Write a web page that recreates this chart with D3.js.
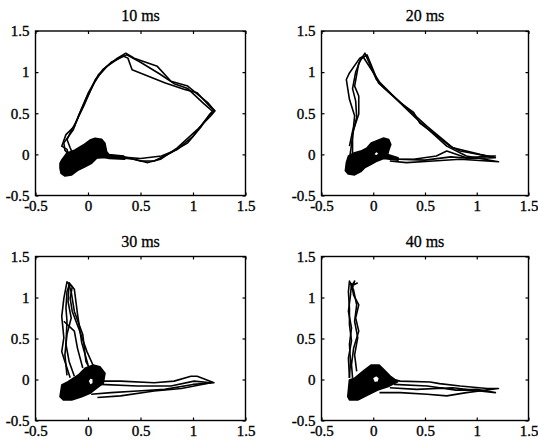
<!DOCTYPE html>
<html>
<head>
<meta charset="utf-8">
<script src="https://cdn.jsdelivr.net/npm/d3@7"></script>
<style>
  body { margin: 0; background: #fff; }
  svg text { font-family: 'Liberation Serif', 'Times New Roman', serif; fill: #000; }
</style>
</head>
<body>
<div id="chart"></div>
<script>
// Tick values and labels shared by every panel
const tickValues = [-0.5, 0, 0.5, 1, 1.5];
const tickLabels = ['-0.5', '0', '0.5', '1', '1.5'];
const titles = ['10 ms', '20 ms', '30 ms', '40 ms'];

// Trajectories (x, y)
const loops10 = [
  [[0.1,-0.02],[0.15,-0.03],[0.31,-0.02],[0.5,-0.08],[0.63,-0.08],[0.79,0.02],[0.95,0.14],[1.08,0.34],[1.16,0.49],[1.2,0.54],[1.14,0.63],[0.95,0.83],[0.79,0.89],[0.66,1.07],[0.44,1.17],[0.36,1.23],[0.28,1.17],[0.14,1.03],[0.06,0.87],[-0.02,0.67],[-0.09,0.47],[-0.13,0.34],[-0.21,0.24],[-0.25,0.1],[-0.2,0.06],[-0.17,-0.06]],
  [[0.1,-0.04],[0.3,-0.04],[0.44,-0.06],[0.57,-0.1],[0.69,-0.06],[0.85,0.08],[1.04,0.3],[1.17,0.47],[1.21,0.53],[1.17,0.57],[1.04,0.75],[0.92,0.79],[0.73,0.87],[0.42,1.03],[0.38,1.17],[0.33,1.2],[0.18,1.07],[0.07,0.91],[-0.04,0.59],[-0.1,0.43],[-0.17,0.26],[-0.2,0.18],[-0.17,0.08],[-0.13,-0.04]],
  [[0.12,-0.03],[0.3,-0.03],[0.5,-0.05],[0.7,-0.02],[0.85,0.06],[1.0,0.22],[1.12,0.42],[1.19,0.52],[1.1,0.62],[0.95,0.8],[0.82,0.86],[0.68,0.98],[0.5,1.12],[0.37,1.21],[0.22,1.12],[0.1,0.97],[0.0,0.74],[-0.08,0.5],[-0.14,0.3],[-0.23,0.14],[-0.22,0.05],[-0.15,-0.05]]
];
const blob10 = [[-0.267,-0.109],[-0.25,-0.068],[-0.203,0.013],[-0.124,0.053],[-0.045,0.114],[0.019,0.175],[0.067,0.195],[0.13,0.183],[0.162,0.134],[0.178,0.033],[0.2,0.0],[0.34,-0.02],[0.35,-0.06],[0.2,-0.05],[0.146,-0.028],[0.083,-0.048],[0.035,-0.109],[-0.029,-0.15],[-0.092,-0.19],[-0.155,-0.25],[-0.219,-0.263],[-0.257,-0.23],[-0.267,-0.17]];
const hole10 = [];

const loops20 = [
  [[-0.23,-0.06],[-0.19,0.3],[-0.14,0.49],[-0.14,0.71],[-0.18,0.83],[-0.14,1.11],[-0.1,1.19],[-0.08,1.23],[0.03,0.91],[0.1,0.81],[0.26,0.63],[0.39,0.51],[0.45,0.38],[0.58,0.26],[0.74,0.1],[0.84,0.04],[1.1,-0.02],[1.18,-0.02],[0.9,-0.04],[0.71,0.04],[0.61,-0.02],[0.39,-0.06],[0.19,-0.06],[0.13,-0.02]],
  [[-0.23,0.1],[-0.19,0.34],[-0.18,0.47],[-0.23,0.67],[-0.26,0.91],[-0.23,0.99],[-0.13,1.17],[-0.1,1.19],[0.06,0.88],[0.29,0.59],[0.42,0.43],[0.71,0.1],[0.9,-0.02],[1.21,-0.09],[0.84,-0.06],[0.58,-0.08],[0.32,-0.1],[0.16,-0.08]],
  [[-0.2,0.0],[-0.2,0.25],[-0.16,0.45],[-0.17,0.65],[-0.2,0.8],[-0.17,1.0],[-0.12,1.16],[-0.06,1.21],[0.05,0.87],[0.32,0.57],[0.52,0.34],[0.77,0.08],[1.03,0.0],[1.18,-0.04],[0.95,-0.05],[0.75,-0.03],[0.5,-0.07],[0.25,-0.06],[0.12,-0.04]]
];
const blob20 = [[-0.27,-0.2],[-0.26,-0.1],[-0.24,-0.02],[-0.18,0.02],[-0.12,0.04],[-0.06,0.08],[-0.02,0.14],[0.04,0.17],[0.1,0.2],[0.15,0.18],[0.17,0.12],[0.15,0.05],[0.14,0.0],[0.24,-0.04],[0.24,-0.07],[0.1,-0.05],[0.04,-0.08],[-0.02,-0.12],[-0.08,-0.16],[-0.12,-0.21],[-0.18,-0.25],[-0.24,-0.24]];
const hole20 = [[0.0,0.0],[0.03,0.04],[0.06,0.01],[0.03,-0.02]];

const loops30 = [
  [[-0.17,0.02],[-0.23,0.26],[-0.25,0.34],[-0.23,0.51],[-0.25,0.77],[-0.23,0.99],[-0.2,1.19],[-0.15,1.13],[-0.17,0.99],[-0.15,0.83],[-0.09,0.63],[-0.01,0.34],[0.06,0.14]],
  [[-0.13,0.04],[-0.18,0.22],[-0.21,0.43],[-0.2,0.71],[-0.21,0.87],[-0.2,1.07],[-0.18,1.15],[-0.16,1.07],[-0.13,0.83],[-0.05,0.55],[-0.02,0.22],[0.03,0.1]],
  [[-0.23,0.71],[-0.13,0.59],[-0.1,0.38],[-0.05,0.14]],
  [[-0.2,0.05],[-0.22,0.3],[-0.2,0.55],[-0.16,0.75],[-0.19,0.95],[-0.18,1.18],[-0.13,1.1],[-0.1,0.8],[-0.06,0.45],[0.0,0.18]],
  [[0.12,-0.02],[0.31,-0.02],[0.63,-0.04],[0.82,-0.02],[0.98,0.04],[1.04,0.04],[1.2,-0.04],[1.0,-0.06],[0.73,-0.12],[0.47,-0.14],[0.22,-0.16],[0.03,-0.18]],
  [[0.12,-0.06],[0.47,-0.08],[0.79,-0.08],[1.01,-0.02],[1.17,-0.04],[0.89,-0.11],[0.63,-0.14],[0.31,-0.2],[0.09,-0.22]]
];
const blob30 = [[-0.267,-0.21],[-0.25,-0.067],[-0.19,-0.027],[-0.092,0.055],[-0.029,0.137],[0.05,0.177],[0.114,0.156],[0.162,0.076],[0.146,-0.046],[0.083,-0.107],[0.019,-0.168],[-0.06,-0.21],[-0.155,-0.25],[-0.235,-0.25]];
const hole30 = [[0.0,-0.02],[0.02,0.02],[0.05,0.01],[0.05,-0.05],[0.02,-0.07]];

const loops40 = [
  [[-0.23,0.02],[-0.24,0.26],[-0.21,0.47],[-0.23,0.67],[-0.23,0.87],[-0.24,1.07],[-0.23,1.2],[-0.19,1.09],[-0.16,0.91],[-0.18,0.71],[-0.15,0.51],[-0.18,0.3],[-0.16,0.1]],
  [[-0.2,0.02],[-0.21,0.18],[-0.19,0.38],[-0.14,0.59],[-0.17,0.75],[-0.14,0.91],[-0.19,1.03],[-0.21,1.17],[-0.22,1.03],[-0.24,0.83],[-0.21,0.63],[-0.23,0.43],[-0.22,0.22],[-0.23,0.02]],
  [[-0.2,1.12],[-0.18,1.2],[-0.21,1.14],[-0.15,1.18]],
  [[0.13,0.02],[0.26,-0.02],[0.55,-0.03],[0.64,-0.05],[0.84,-0.08],[1.1,-0.11],[1.21,-0.11],[0.9,-0.16],[0.71,-0.2],[0.52,-0.18],[0.26,-0.16],[0.06,-0.16]],
  [[0.16,-0.1],[0.42,-0.12],[0.77,-0.1],[1.03,-0.14],[1.18,-0.16],[1.0,-0.12],[0.8,-0.13],[0.52,-0.08],[0.2,-0.06]]
];
const blob40 = [[-0.247,-0.21],[-0.231,-0.006],[-0.183,0.015],[-0.086,0.116],[-0.022,0.177],[0.058,0.177],[0.107,0.116],[0.171,0.034],[0.236,-0.027],[0.14,-0.088],[0.043,-0.128],[-0.054,-0.189],[-0.15,-0.25],[-0.23,-0.25]];
const hole40 = [[-0.01,0.02],[0.03,0.05],[0.06,0.02],[0.05,-0.03],[0.01,-0.04]];

const panels = [
  { title: titles[0], loops: loops10, blob: blob10, hole: hole10, x0: 35.5, x1: 245.5, y0: 31, y1: 195.5 },
  { title: titles[1], loops: loops20, blob: blob20, hole: hole20, x0: 321.5, x1: 528.5, y0: 31, y1: 195.5 },
  { title: titles[2], loops: loops30, blob: blob30, hole: hole30, x0: 35.5, x1: 245.5, y0: 256.5, y1: 420.5 },
  { title: titles[3], loops: loops40, blob: blob40, hole: hole40, x0: 321.5, x1: 528.5, y0: 256.5, y1: 420.5 },
];

const svg = d3.select('#chart')
  .append('svg')
  .attr('width', 538)
  .attr('height', 445);

panels.forEach((p, i) => {
  const x = d3.scaleLinear().domain([-0.5, 1.5]).range([p.x0, p.x1]);
  const y = d3.scaleLinear().domain([-0.5, 1.5]).range([p.y1, p.y0]);
  const line = d3.line().x(d => x(d[0])).y(d => y(d[1]));
  const g = svg.append('g');

  g.append('clipPath').attr('id', `clip${i}`)
    .append('rect')
    .attr('x', p.x0).attr('y', p.y0)
    .attr('width', p.x1 - p.x0).attr('height', p.y1 - p.y0);

  const plot = g.append('g').attr('clip-path', `url(#clip${i})`);

  // dense cluster near the origin
  let blobPath = line(p.blob) + 'Z';
  if (p.hole.length) blobPath += line(p.hole) + 'Z';
  plot.append('path')
    .attr('d', blobPath)
    .attr('fill', '#000')
    .attr('fill-rule', 'evenodd')
    .attr('stroke', '#000')
    .attr('stroke-width', 1.5)
    .attr('stroke-linejoin', 'round');

  p.loops.forEach(l => {
    plot.append('path')
      .attr('d', line(l))
      .attr('fill', 'none')
      .attr('stroke', '#000')
      .attr('stroke-width', 1.6)
      .attr('stroke-linejoin', 'round');
  });

  // frame
  g.append('rect')
    .attr('x', p.x0).attr('y', p.y0)
    .attr('width', p.x1 - p.x0).attr('height', p.y1 - p.y0)
    .attr('fill', 'none')
    .attr('stroke', '#000')
    .attr('stroke-width', 1.4);

  const fmt = (d) => tickLabels[tickValues.indexOf(d)];

  // axes with inward ticks, matlab style
  const axB = g.append('g').attr('transform', `translate(0,${p.y1})`)
    .call(d3.axisBottom(x).tickValues(tickValues).tickSize(-3).tickPadding(5).tickFormat(fmt));
  const axT = g.append('g').attr('transform', `translate(0,${p.y0})`)
    .call(d3.axisTop(x).tickValues(tickValues).tickSize(-3).tickFormat(''));
  const axL = g.append('g').attr('transform', `translate(${p.x0},0)`)
    .call(d3.axisLeft(y).tickValues(tickValues).tickSize(-3).tickPadding(6).tickFormat(fmt));
  const axR = g.append('g').attr('transform', `translate(${p.x1},0)`)
    .call(d3.axisRight(y).tickValues(tickValues).tickSize(-3).tickFormat(''));

  [axB, axT, axL, axR].forEach(a => {
    a.select('.domain').remove();
    a.selectAll('line').attr('stroke', '#000').attr('stroke-width', 1.2);
    a.selectAll('text')
      .attr('font-family', "'Liberation Serif', serif")
      .attr('font-size', 15)
      .attr('fill', '#000')
      .attr('stroke', '#000')
      .attr('stroke-width', 0.35);
  });

  g.append('text')
    .attr('x', (p.x0 + p.x1) / 2)
    .attr('y', p.y0 - 10)
    .attr('text-anchor', 'middle')
    .attr('font-size', 16)
    .attr('stroke', '#000')
    .attr('stroke-width', 0.3)
    .text(p.title);
});
</script>
</body>
</html>
